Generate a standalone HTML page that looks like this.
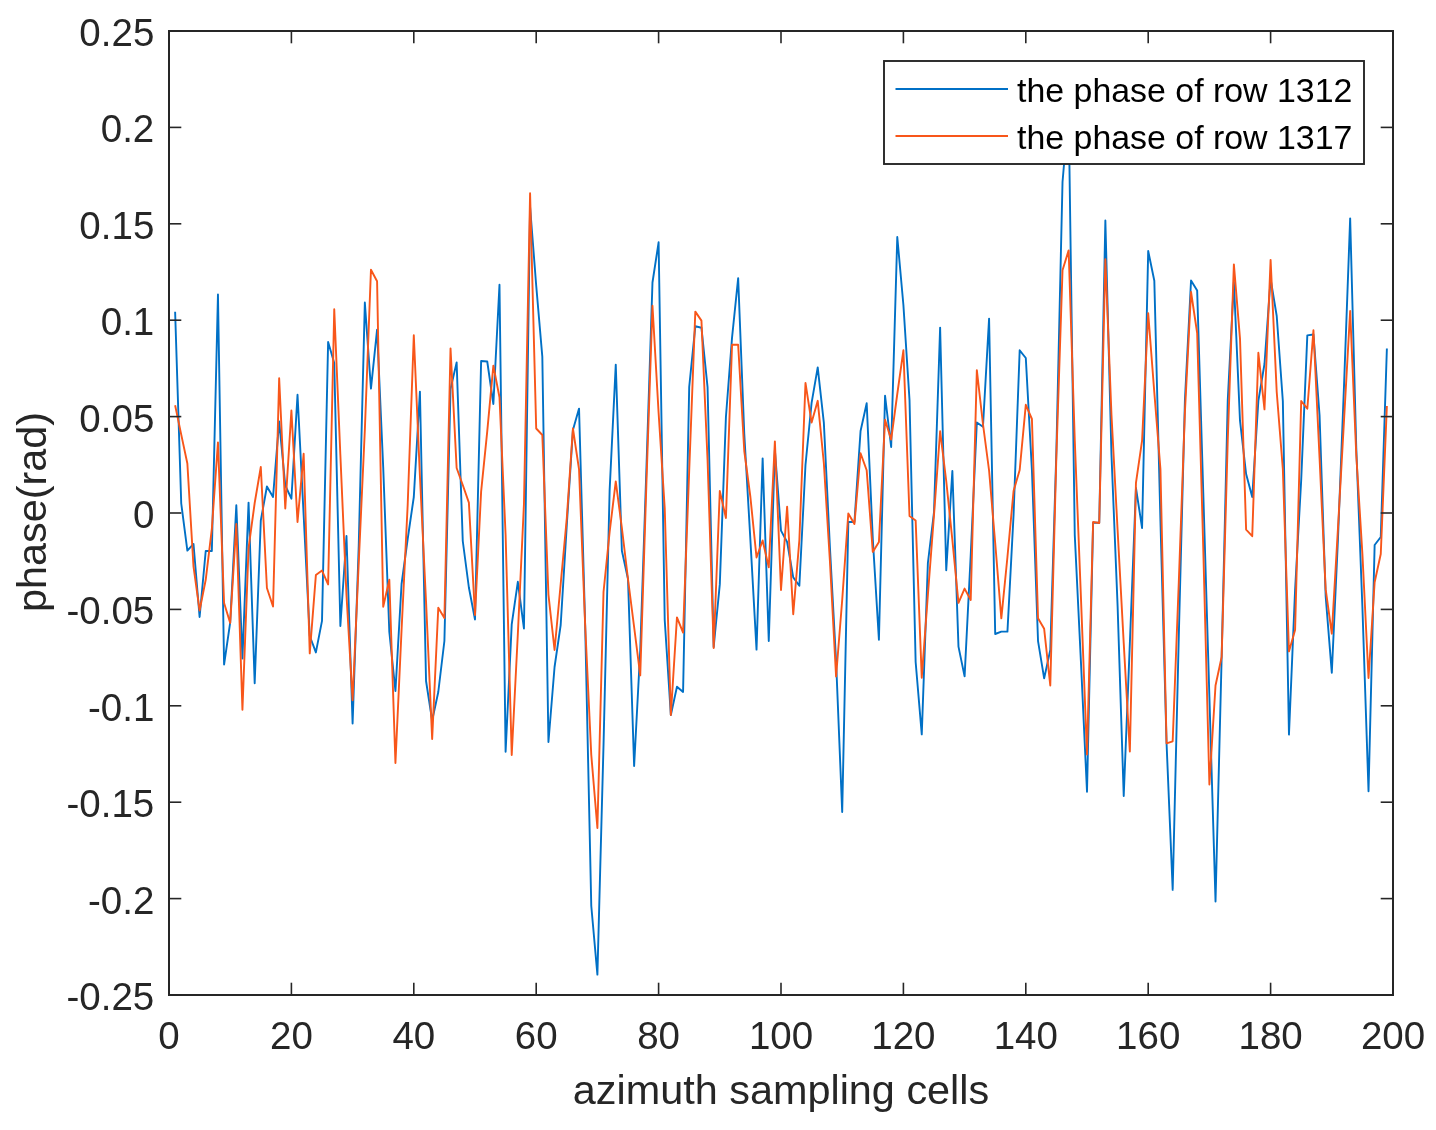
<!DOCTYPE html><html><head><meta charset="utf-8"><style>html,body{margin:0;padding:0;background:#fff;}svg{display:block;}text{font-family:"Liberation Sans",sans-serif;}svg{will-change:transform;}</style></head><body>
<svg width="1436" height="1130" viewBox="0 0 1436 1130">
<rect x="0" y="0" width="1436" height="1130" fill="#fff"/>
<clipPath id="c"><rect x="169.0" y="31.0" width="1224.0" height="964.0"/></clipPath>
<polyline clip-path="url(#c)" points="175.12,311.70 181.24,503.50 187.36,550.60 193.48,543.90 199.60,617.00 205.72,551.00 211.84,551.00 217.96,294.50 224.08,664.60 230.20,622.30 236.32,505.20 242.44,658.50 248.56,502.60 254.68,683.30 260.80,520.50 266.92,486.50 273.04,496.90 279.16,421.40 285.28,485.50 291.40,498.70 297.52,394.80 303.64,515.00 309.76,636.00 315.88,652.40 322.00,620.90 328.12,342.00 334.24,363.00 340.36,626.00 346.48,536.00 352.60,723.50 358.72,546.00 364.84,302.50 370.96,388.60 377.08,329.60 383.20,467.00 389.32,632.00 395.44,691.00 401.56,584.00 407.68,539.00 413.80,497.00 419.92,391.60 426.04,681.00 432.16,720.50 438.28,692.00 444.40,641.00 450.52,389.00 456.64,362.40 462.76,541.00 468.88,587.50 475.00,619.50 481.12,361.00 487.24,361.50 493.36,404.00 499.48,284.80 505.60,751.80 511.72,624.40 517.84,581.80 523.96,628.60 530.08,207.00 536.20,285.50 542.32,356.70 548.44,742.00 554.56,667.00 560.68,625.00 566.80,525.00 572.92,430.00 579.04,408.60 585.16,625.00 591.28,906.00 597.40,974.60 603.52,745.00 609.64,490.00 615.76,364.60 621.88,550.80 628.00,579.00 634.12,766.00 640.24,650.00 646.36,470.00 652.48,282.50 658.60,242.30 664.72,620.00 670.84,715.00 676.96,686.70 683.08,692.00 689.20,387.00 695.32,326.30 701.44,327.70 707.56,387.20 713.68,647.00 719.80,584.40 725.92,417.00 732.04,337.60 738.16,278.10 744.28,434.00 750.40,540.00 756.52,649.60 762.64,458.40 768.76,641.00 774.88,450.00 781.00,530.60 787.12,542.00 793.24,577.40 799.36,585.80 805.48,465.00 811.60,402.80 817.72,367.40 823.84,422.60 829.96,548.00 836.08,661.00 842.20,812.00 848.32,522.00 854.44,522.00 860.56,431.00 866.68,403.30 872.80,539.00 878.92,639.70 885.04,395.70 891.16,447.00 897.28,237.00 903.40,305.00 909.52,400.00 915.64,662.00 921.76,734.40 927.88,563.00 934.00,512.00 940.12,327.60 946.24,570.20 952.36,471.00 958.48,646.60 964.60,676.40 970.72,555.00 976.84,422.50 982.96,426.70 989.08,318.60 995.20,634.00 1001.32,631.60 1007.44,631.60 1013.56,515.00 1019.68,350.30 1025.80,358.00 1031.92,470.00 1038.04,641.20 1044.16,678.40 1050.28,650.00 1056.40,450.00 1062.52,182.00 1068.64,110.00 1074.76,535.00 1080.88,660.70 1087.00,791.70 1093.12,522.70 1099.24,522.70 1105.36,220.50 1111.48,455.00 1117.60,606.00 1123.72,796.00 1129.84,643.60 1135.96,488.00 1142.08,528.00 1148.20,251.00 1154.32,280.70 1160.44,521.00 1166.56,743.30 1172.68,889.90 1178.80,636.00 1184.92,400.00 1191.04,280.50 1197.16,290.40 1203.28,493.00 1209.40,697.00 1215.52,901.50 1221.64,657.50 1227.76,400.00 1233.88,282.00 1240.00,420.70 1246.12,474.00 1252.24,497.00 1258.36,400.90 1264.48,364.00 1270.60,279.00 1276.72,316.00 1282.84,401.00 1288.96,734.60 1295.08,590.00 1301.20,480.00 1307.32,335.40 1313.44,334.50 1319.56,415.20 1325.68,596.50 1331.80,672.70 1337.92,540.00 1344.04,385.00 1350.16,218.40 1356.28,448.00 1362.40,607.00 1368.52,791.30 1374.64,545.00 1380.76,537.00 1386.88,348.50" fill="none" stroke="#0070C6" stroke-width="1.9" stroke-linejoin="round"/>
<polyline clip-path="url(#c)" points="175.12,405.20 181.24,434.60 187.36,463.50 193.48,566.30 199.60,610.50 205.72,579.80 211.84,528.80 217.96,442.40 224.08,603.00 230.20,623.00 236.32,524.00 242.44,709.80 248.56,548.00 254.68,503.00 260.80,467.00 266.92,588.00 273.04,606.50 279.16,378.20 285.28,508.50 291.40,410.50 297.52,522.00 303.64,453.80 309.76,653.40 315.88,575.10 322.00,570.60 328.12,584.40 334.24,309.20 340.36,455.00 346.48,595.00 352.60,700.30 358.72,563.00 364.84,430.00 370.96,269.80 377.08,281.20 383.20,606.70 389.32,579.70 395.44,763.00 401.56,630.00 407.68,505.00 413.80,335.20 419.92,476.00 426.04,601.60 432.16,739.00 438.28,607.80 444.40,618.00 450.52,348.40 456.64,468.00 462.76,485.00 468.88,502.60 475.00,615.00 481.12,491.60 487.24,431.40 493.36,365.60 499.48,397.30 505.60,535.00 511.72,755.00 517.84,634.00 523.96,504.00 530.08,193.30 536.20,428.50 542.32,435.00 548.44,594.60 554.56,650.00 560.68,584.00 566.80,518.00 572.92,428.50 579.04,469.40 585.16,625.00 591.28,755.00 597.40,828.00 603.52,592.00 609.64,532.00 615.76,481.40 621.88,528.00 628.00,579.00 634.12,627.00 640.24,675.40 646.36,485.00 652.48,305.70 658.60,412.80 664.72,508.00 670.84,715.00 676.96,617.40 683.08,632.60 689.20,470.70 695.32,311.60 701.44,320.60 707.56,460.00 713.68,648.00 719.80,491.00 725.92,518.00 732.04,344.70 738.16,344.70 744.28,451.00 750.40,497.00 756.52,557.50 762.64,540.50 768.76,567.40 774.88,441.40 781.00,590.00 787.12,506.60 793.24,614.20 799.36,540.00 805.48,383.00 811.60,422.60 817.72,400.80 823.84,463.00 829.96,562.00 836.08,676.50 842.20,600.00 848.32,513.40 854.44,524.00 860.56,453.20 866.68,470.20 872.80,551.90 878.92,542.00 885.04,419.70 891.16,439.60 897.28,394.00 903.40,350.30 909.52,516.00 915.64,520.40 921.76,677.80 927.88,595.00 934.00,515.00 940.12,431.20 946.24,481.00 952.36,540.00 958.48,602.80 964.60,588.60 970.72,600.00 976.84,370.10 982.96,424.00 989.08,470.50 995.20,543.00 1001.32,618.30 1007.44,557.00 1013.56,491.00 1019.68,470.00 1025.80,404.80 1031.92,419.00 1038.04,618.20 1044.16,628.80 1050.28,685.50 1056.40,455.00 1062.52,270.30 1068.64,250.40 1074.76,440.00 1080.88,596.00 1087.00,754.50 1093.12,522.00 1099.24,523.00 1105.36,259.20 1111.48,415.00 1117.60,530.00 1123.72,643.00 1129.84,751.50 1135.96,482.80 1142.08,440.60 1148.20,313.20 1154.32,392.50 1160.44,469.00 1166.56,743.30 1172.68,741.30 1178.80,582.00 1184.92,412.00 1191.04,292.00 1197.16,333.00 1203.28,549.00 1209.40,784.50 1215.52,685.50 1221.64,657.00 1227.76,440.00 1233.88,264.40 1240.00,338.60 1246.12,529.70 1252.24,536.20 1258.36,352.80 1264.48,409.40 1270.60,259.90 1276.72,392.00 1282.84,469.00 1288.96,651.40 1295.08,630.10 1301.20,401.00 1307.32,408.70 1313.44,330.30 1319.56,458.00 1325.68,589.40 1331.80,633.70 1337.92,529.00 1344.04,420.00 1350.16,311.00 1356.28,455.00 1362.40,554.00 1368.52,678.00 1374.64,582.30 1380.76,554.00 1386.88,406.00" fill="none" stroke="#F8561A" stroke-width="1.9" stroke-linejoin="round"/>
<rect x="169.0" y="31.0" width="1224.0" height="964.0" fill="none" stroke="#262626" stroke-width="2"/>
<line x1="169.00" y1="995.0" x2="169.00" y2="982.7" stroke="#262626" stroke-width="1.6"/>
<line x1="169.00" y1="31.0" x2="169.00" y2="43.3" stroke="#262626" stroke-width="1.6"/>
<text x="169.00" y="1049" font-size="38.5" fill="#262626" text-anchor="middle">0</text>
<line x1="291.40" y1="995.0" x2="291.40" y2="982.7" stroke="#262626" stroke-width="1.6"/>
<line x1="291.40" y1="31.0" x2="291.40" y2="43.3" stroke="#262626" stroke-width="1.6"/>
<text x="291.40" y="1049" font-size="38.5" fill="#262626" text-anchor="middle">20</text>
<line x1="413.80" y1="995.0" x2="413.80" y2="982.7" stroke="#262626" stroke-width="1.6"/>
<line x1="413.80" y1="31.0" x2="413.80" y2="43.3" stroke="#262626" stroke-width="1.6"/>
<text x="413.80" y="1049" font-size="38.5" fill="#262626" text-anchor="middle">40</text>
<line x1="536.20" y1="995.0" x2="536.20" y2="982.7" stroke="#262626" stroke-width="1.6"/>
<line x1="536.20" y1="31.0" x2="536.20" y2="43.3" stroke="#262626" stroke-width="1.6"/>
<text x="536.20" y="1049" font-size="38.5" fill="#262626" text-anchor="middle">60</text>
<line x1="658.60" y1="995.0" x2="658.60" y2="982.7" stroke="#262626" stroke-width="1.6"/>
<line x1="658.60" y1="31.0" x2="658.60" y2="43.3" stroke="#262626" stroke-width="1.6"/>
<text x="658.60" y="1049" font-size="38.5" fill="#262626" text-anchor="middle">80</text>
<line x1="781.00" y1="995.0" x2="781.00" y2="982.7" stroke="#262626" stroke-width="1.6"/>
<line x1="781.00" y1="31.0" x2="781.00" y2="43.3" stroke="#262626" stroke-width="1.6"/>
<text x="781.00" y="1049" font-size="38.5" fill="#262626" text-anchor="middle">100</text>
<line x1="903.40" y1="995.0" x2="903.40" y2="982.7" stroke="#262626" stroke-width="1.6"/>
<line x1="903.40" y1="31.0" x2="903.40" y2="43.3" stroke="#262626" stroke-width="1.6"/>
<text x="903.40" y="1049" font-size="38.5" fill="#262626" text-anchor="middle">120</text>
<line x1="1025.80" y1="995.0" x2="1025.80" y2="982.7" stroke="#262626" stroke-width="1.6"/>
<line x1="1025.80" y1="31.0" x2="1025.80" y2="43.3" stroke="#262626" stroke-width="1.6"/>
<text x="1025.80" y="1049" font-size="38.5" fill="#262626" text-anchor="middle">140</text>
<line x1="1148.20" y1="995.0" x2="1148.20" y2="982.7" stroke="#262626" stroke-width="1.6"/>
<line x1="1148.20" y1="31.0" x2="1148.20" y2="43.3" stroke="#262626" stroke-width="1.6"/>
<text x="1148.20" y="1049" font-size="38.5" fill="#262626" text-anchor="middle">160</text>
<line x1="1270.60" y1="995.0" x2="1270.60" y2="982.7" stroke="#262626" stroke-width="1.6"/>
<line x1="1270.60" y1="31.0" x2="1270.60" y2="43.3" stroke="#262626" stroke-width="1.6"/>
<text x="1270.60" y="1049" font-size="38.5" fill="#262626" text-anchor="middle">180</text>
<line x1="1393.00" y1="995.0" x2="1393.00" y2="982.7" stroke="#262626" stroke-width="1.6"/>
<line x1="1393.00" y1="31.0" x2="1393.00" y2="43.3" stroke="#262626" stroke-width="1.6"/>
<text x="1393.00" y="1049" font-size="38.5" fill="#262626" text-anchor="middle">200</text>
<line x1="169.0" y1="31.00" x2="181.3" y2="31.00" stroke="#262626" stroke-width="1.6"/>
<line x1="1393.0" y1="31.00" x2="1380.7" y2="31.00" stroke="#262626" stroke-width="1.6"/>
<text x="154.3" y="46.00" font-size="38.5" fill="#262626" text-anchor="end">0.25</text>
<line x1="169.0" y1="127.40" x2="181.3" y2="127.40" stroke="#262626" stroke-width="1.6"/>
<line x1="1393.0" y1="127.40" x2="1380.7" y2="127.40" stroke="#262626" stroke-width="1.6"/>
<text x="154.3" y="142.40" font-size="38.5" fill="#262626" text-anchor="end">0.2</text>
<line x1="169.0" y1="223.80" x2="181.3" y2="223.80" stroke="#262626" stroke-width="1.6"/>
<line x1="1393.0" y1="223.80" x2="1380.7" y2="223.80" stroke="#262626" stroke-width="1.6"/>
<text x="154.3" y="238.80" font-size="38.5" fill="#262626" text-anchor="end">0.15</text>
<line x1="169.0" y1="320.20" x2="181.3" y2="320.20" stroke="#262626" stroke-width="1.6"/>
<line x1="1393.0" y1="320.20" x2="1380.7" y2="320.20" stroke="#262626" stroke-width="1.6"/>
<text x="154.3" y="335.20" font-size="38.5" fill="#262626" text-anchor="end">0.1</text>
<line x1="169.0" y1="416.60" x2="181.3" y2="416.60" stroke="#262626" stroke-width="1.6"/>
<line x1="1393.0" y1="416.60" x2="1380.7" y2="416.60" stroke="#262626" stroke-width="1.6"/>
<text x="154.3" y="431.60" font-size="38.5" fill="#262626" text-anchor="end">0.05</text>
<line x1="169.0" y1="513.00" x2="181.3" y2="513.00" stroke="#262626" stroke-width="1.6"/>
<line x1="1393.0" y1="513.00" x2="1380.7" y2="513.00" stroke="#262626" stroke-width="1.6"/>
<text x="154.3" y="528.00" font-size="38.5" fill="#262626" text-anchor="end">0</text>
<line x1="169.0" y1="609.40" x2="181.3" y2="609.40" stroke="#262626" stroke-width="1.6"/>
<line x1="1393.0" y1="609.40" x2="1380.7" y2="609.40" stroke="#262626" stroke-width="1.6"/>
<text x="154.3" y="624.40" font-size="38.5" fill="#262626" text-anchor="end">-0.05</text>
<line x1="169.0" y1="705.80" x2="181.3" y2="705.80" stroke="#262626" stroke-width="1.6"/>
<line x1="1393.0" y1="705.80" x2="1380.7" y2="705.80" stroke="#262626" stroke-width="1.6"/>
<text x="154.3" y="720.80" font-size="38.5" fill="#262626" text-anchor="end">-0.1</text>
<line x1="169.0" y1="802.20" x2="181.3" y2="802.20" stroke="#262626" stroke-width="1.6"/>
<line x1="1393.0" y1="802.20" x2="1380.7" y2="802.20" stroke="#262626" stroke-width="1.6"/>
<text x="154.3" y="817.20" font-size="38.5" fill="#262626" text-anchor="end">-0.15</text>
<line x1="169.0" y1="898.60" x2="181.3" y2="898.60" stroke="#262626" stroke-width="1.6"/>
<line x1="1393.0" y1="898.60" x2="1380.7" y2="898.60" stroke="#262626" stroke-width="1.6"/>
<text x="154.3" y="913.60" font-size="38.5" fill="#262626" text-anchor="end">-0.2</text>
<line x1="169.0" y1="995.00" x2="181.3" y2="995.00" stroke="#262626" stroke-width="1.6"/>
<line x1="1393.0" y1="995.00" x2="1380.7" y2="995.00" stroke="#262626" stroke-width="1.6"/>
<text x="154.3" y="1010.00" font-size="38.5" fill="#262626" text-anchor="end">-0.25</text>
<text x="781" y="1103.6" font-size="41.4" fill="#262626" text-anchor="middle">azimuth sampling cells</text>
<text transform="translate(45.8,512) rotate(-90)" x="0" y="0" font-size="41.4" fill="#262626" text-anchor="middle">phase(rad)</text>
<rect x="884" y="61" width="480" height="103" fill="#fff" stroke="#262626" stroke-width="1.9"/>
<line x1="895.5" y1="89" x2="1008" y2="89" stroke="#0070C6" stroke-width="2"/>
<line x1="895.5" y1="136" x2="1008" y2="136" stroke="#F8561A" stroke-width="2"/>
<text x="1017" y="101.7" font-size="33.9" fill="#000">the phase of row 1312</text>
<text x="1017" y="148.6" font-size="33.9" fill="#000">the phase of row 1317</text>
</svg></body></html>
